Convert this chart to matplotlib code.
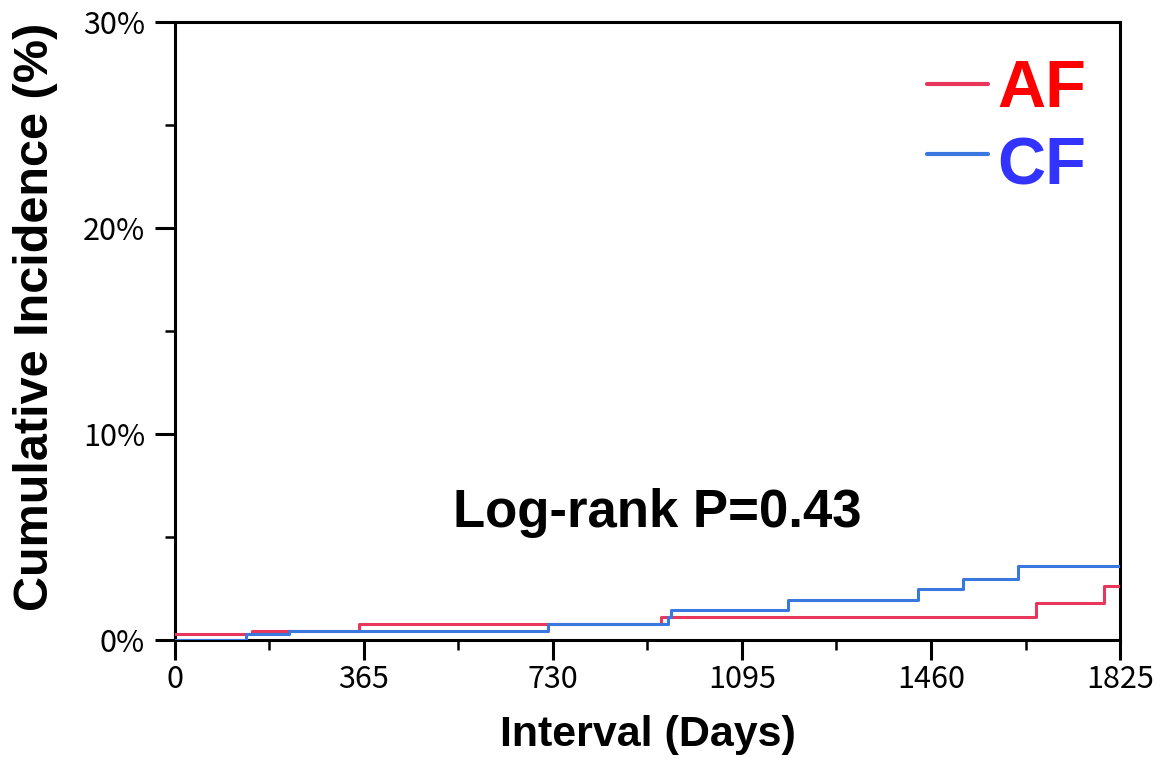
import matplotlib
matplotlib.use("Agg")
import matplotlib.pyplot as plt
from matplotlib.ticker import MultipleLocator, FuncFormatter

# Data (days, cumulative incidence %)
af_days = [0, 149, 355, 938, 1662, 1795, 1825]
af_inc = [0.29, 0.44, 0.78, 1.12, 1.80, 2.62, 2.62]
cf_days = [0, 137, 220, 721, 952, 958, 1184, 1435, 1522, 1628, 1825]
cf_inc = [0.0, 0.29, 0.44, 0.78, 1.10, 1.46, 1.94, 2.48, 2.96, 3.60, 3.60]
x_ticks = [0, 365, 730, 1095, 1460, 1825]
y_ticks = [0, 10, 20, 30]

af_color = "#e8375a"
cf_color = "#3a78e0"

fig = plt.figure(figsize=(11.55, 7.59), dpi=100)
ax = fig.add_axes([0.1515, 0.1568, 0.8182, 0.8142])

ax.step(af_days, af_inc, where="post", color=af_color, lw=2.2, zorder=3)
ax.step(cf_days, cf_inc, where="post", color=cf_color, lw=2.2, zorder=3)

ax.set_xlim(0, 1825)
ax.set_ylim(0, 30)
ax.set_xticks(x_ticks)
ax.set_yticks(y_ticks)
ax.xaxis.set_minor_locator(MultipleLocator(182.5))
ax.yaxis.set_minor_locator(MultipleLocator(5))
ax.yaxis.set_major_formatter(FuncFormatter(lambda v, p: f"{int(v)}%"))

for s in ax.spines.values():
    s.set_linewidth(2.2)
ax.tick_params(which="major", direction="out", length=14.5, width=2.2,
               labelsize=22)
ax.tick_params(axis="x", which="major", pad=3)
ax.tick_params(axis="y", which="major", pad=7)
ax.tick_params(which="minor", direction="out", length=7, width=1.8)
for lab in ax.get_xticklabels() + ax.get_yticklabels():
    lab.set_family(["Noto Sans CJK JP", "DejaVu Sans"])

ax.set_xlabel("Interval (Days)", fontsize=31, fontweight="bold",
              family="Liberation Sans", labelpad=14)
ax.set_ylabel("Cumulative Incidence (%)", fontsize=35, fontweight="bold",
              family="Liberation Sans")
ax.yaxis.set_label_coords(-0.1235, 0.5225)

ax.text(931, 5.49, "Log-rank P=0.43", fontsize=38, fontweight="bold",
        family="Liberation Sans", ha="center", va="baseline")

# Legend
ax.plot([1453, 1570], [27.0, 27.0], color=af_color, lw=3, solid_capstyle="round")
ax.plot([1453, 1570], [23.6, 23.6], color=cf_color, lw=3, solid_capstyle="round")
ax.text(1588, 25.87, "AF", fontsize=48, fontweight="bold", color="#ff0000",
        family="Liberation Sans", ha="left", va="baseline")
ax.text(1588, 22.09, "CF", fontsize=48, fontweight="bold", color="#3333ff",
        family="Liberation Sans", ha="left", va="baseline")

fig.savefig("out.png", dpi=100)
